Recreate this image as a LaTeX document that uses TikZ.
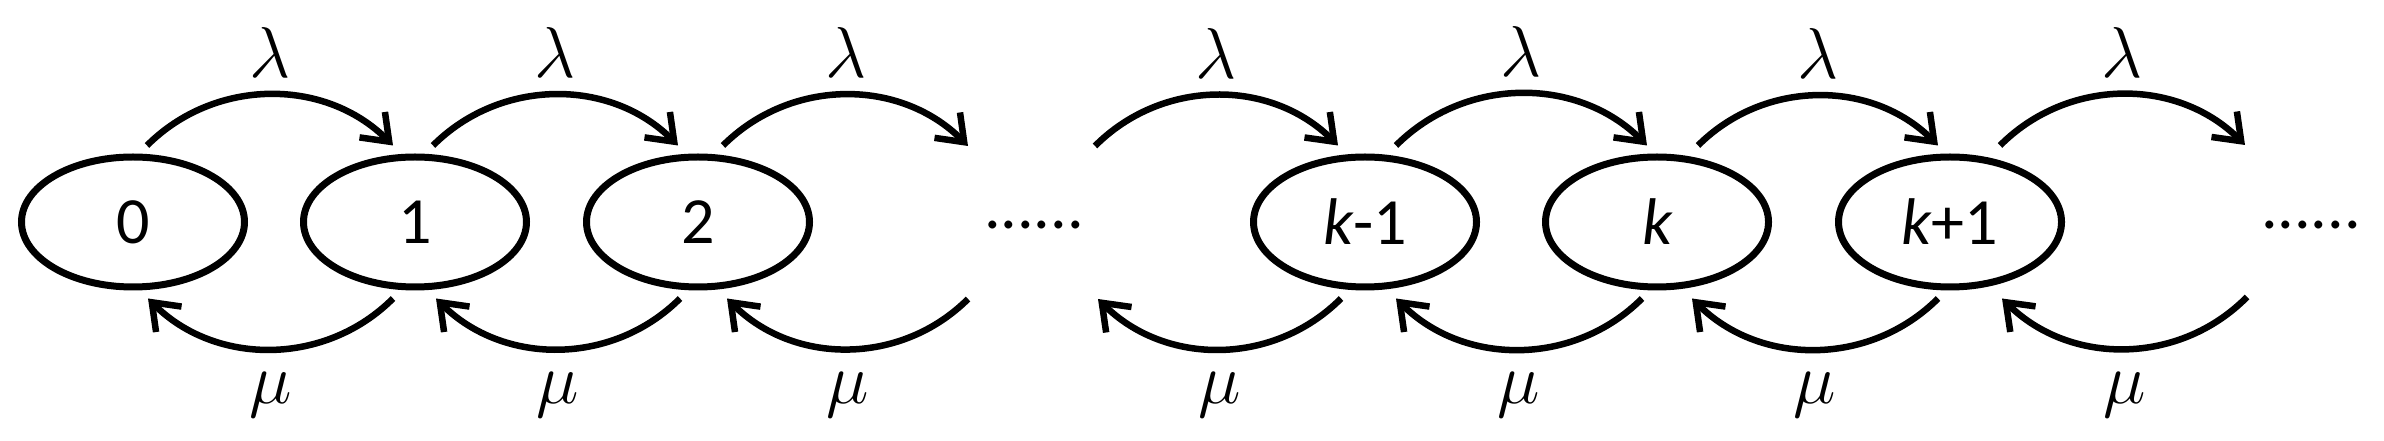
\RequirePackage{fix-cm}
\documentclass[tikz,border=0pt]{standalone}
\usepackage{fontspec}
\setmainfont{Carlito}
\usetikzlibrary{shapes.geometric,arrows.meta}
\begin{document}
\begin{tikzpicture}[x=1pt,y=1pt,
  state/.style={ellipse,draw,line width=7pt,minimum width=223pt,minimum height=130pt,inner sep=0pt,font=\fontsize{66}{70}\selectfont},
  arr/.style={line width=6.5pt,-{Straight Barb[length=24pt,width=36pt]},bend left=45},
  lab/.style={font=\fontsize{72}{76}\selectfont,inner sep=0pt},
  dotsnode/.style={font=\fontsize{66}{70}\selectfont,inner sep=0pt}]
\useasboundingbox (0,0) rectangle (2384,441);
\node[state] (s0) at (133,219) {0};
\node[state] (s1) at (415,219) {1};
\node[state] (s2) at (698,219) {2};
\node[dotsnode] (d1) at (1034,216) {......};
\node[state] (sk1) at (1365,219) {{\itshape k}-1};
\node[state] (sk) at (1657,219) {{\itshape k}};
\node[state] (sk2) at (1950,219) {{\itshape k}+1};
\node[dotsnode] (d2) at (2311,216) {......};
\coordinate (f1) at (968,295);
\coordinate (f2) at (1095,295);
\coordinate (f3) at (2245,296);
\coordinate (f4) at (968,142);
\coordinate (f5) at (1098,142);
\coordinate (f6) at (2247,144);
% top arcs (lambda)
\draw[arr] ([xshift=14pt,yshift=8pt]s0.north) to node[lab,yshift=42pt] (l1) {$\lambda$} ([xshift=-22pt,yshift=8pt]s1.north);
\draw[arr] ([xshift=18pt,yshift=8pt]s1.north) to node[lab,yshift=42pt] (l2) {$\lambda$} ([xshift=-20pt,yshift=8pt]s2.north);
\draw[arr] ([xshift=25pt,yshift=8pt]s2.north) to node[lab,yshift=42pt] (l3) {$\lambda$} (f1);
\draw[arr] (f2) to node[lab,yshift=42pt] (l4) {$\lambda$} ([xshift=-27pt,yshift=8pt]sk1.north);
\draw[arr] ([xshift=31pt,yshift=8pt]sk1.north) to node[lab,yshift=42pt] (l5) {$\lambda$} ([xshift=-10pt,yshift=8pt]sk.north);
\draw[arr] ([xshift=41pt,yshift=8pt]sk.north) to node[lab,yshift=42pt] (l6) {$\lambda$} ([xshift=-12pt,yshift=8pt]sk2.north);
\draw[arr] ([xshift=50pt,yshift=8pt]sk2.north) to node[lab,yshift=42pt] (l7) {$\lambda$} (f3);
% bottom arcs (mu)
\draw[arr] ([xshift=-22pt,yshift=-8pt]s1.south) to node[lab,yshift=-46pt] (m1) {$\mu$} ([xshift=15pt,yshift=-8pt]s0.south);
\draw[arr] ([xshift=-18pt,yshift=-8pt]s2.south) to node[lab,yshift=-46pt] (m2) {$\mu$} ([xshift=21pt,yshift=-8pt]s1.south);
\draw[arr] (f4) to node[lab,yshift=-46pt] (m3) {$\mu$} ([xshift=29pt,yshift=-8pt]s2.south);
\draw[arr] ([xshift=-24pt,yshift=-8pt]sk1.south) to node[lab,yshift=-46pt] (m4) {$\mu$} (f5);
\draw[arr] ([xshift=-15pt,yshift=-8pt]sk.south) to node[lab,yshift=-46pt] (m5) {$\mu$} ([xshift=31pt,yshift=-8pt]sk1.south);
\draw[arr] ([xshift=-12pt,yshift=-8pt]sk2.south) to node[lab,yshift=-46pt] (m6) {$\mu$} ([xshift=35pt,yshift=-8pt]sk.south);
\draw[arr] (f6) to node[lab,yshift=-46pt] (m7) {$\mu$} ([xshift=52pt,yshift=-8pt]sk2.south);
\end{tikzpicture}
\end{document}
